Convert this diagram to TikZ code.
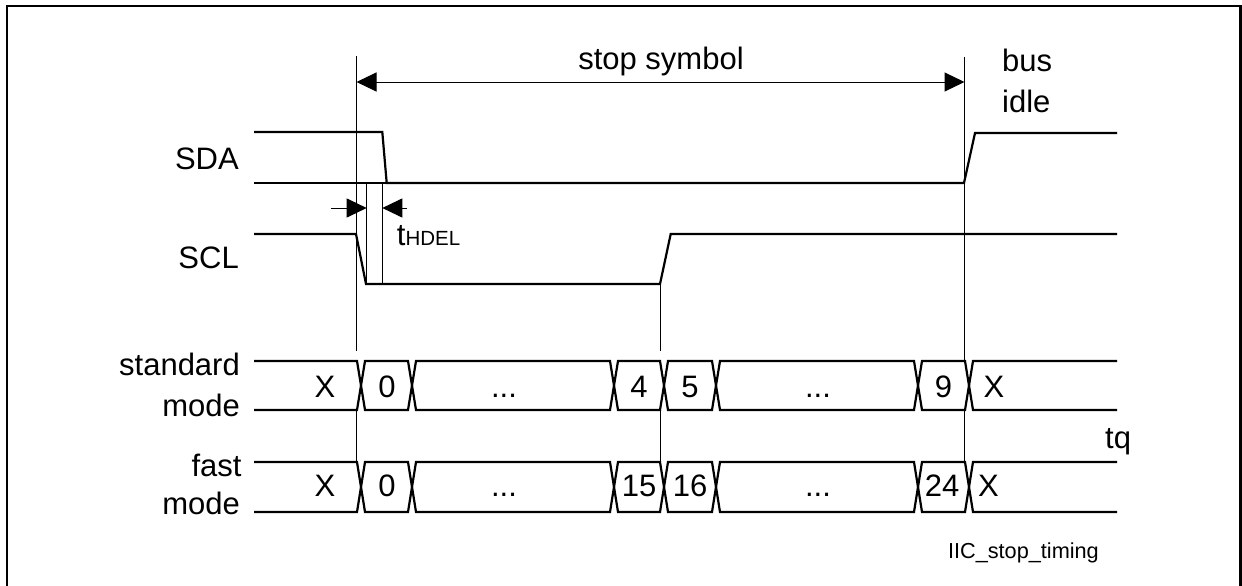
\documentclass[tikz,border=0pt]{standalone}
\usepackage{fontspec}
\setmainfont{Liberation Sans}
\usetikzlibrary{arrows.meta}
\begin{document}
\begin{tikzpicture}[x=1pt,y=-1pt,
  sig/.style={line width=2.2pt, line join=miter},
  thinln/.style={line width=1pt},
  lbl/.style={inner sep=0pt, font=\fontsize{31}{36}\selectfont},
  smalllbl/.style={inner sep=0pt, font=\fontsize{21.7}{26}\selectfont},
  tiparrow/.style={-{Triangle[length=20pt,width=19pt]}, line width=1pt}
]
\useasboundingbox (0,0) rectangle (1242,586);
% frame
\draw[line width=2.5pt] (7,586) -- (7,6) -- (1240.5,6) -- (1240.5,586);

% reference verticals
\draw[thinln] (356.5,56) -- (356.5,351) (356.5,410) -- (356.5,462);
\draw[thinln] (964.5,57) -- (964.5,361) (964.5,410) -- (964.5,462);
\draw[thinln] (660.5,284) -- (660.5,351) (660.5,410) -- (660.5,462);
\draw[thinln] (366.7,183) -- (366.7,284);
\draw[thinln] (382.3,183) -- (382.3,284);

% stop symbol arrow
\coordinate (stopL) at (356.5,82);
\coordinate (stopR) at (964.5,82);
\coordinate (stopM) at (660.5,82);
\draw[tiparrow] (stopM) -- (stopL);
\draw[tiparrow] (stopM) -- (stopR);

% tHDEL arrows
\coordinate (hA) at (331,208);
\coordinate (hB) at (366.7,208);
\coordinate (hC) at (407,208);
\coordinate (hD) at (382.3,208);
\draw[tiparrow] (hA) -- (hB);
\draw[tiparrow] (hC) -- (hD);

% signals
\draw[sig] (254,132) -- (382.3,132) -- (386.7,183) -- (964,183) -- (975,133) -- (1117,133);
\draw[sig] (254,183) -- (386.7,183);
\draw[sig] (254,234) -- (356,234) -- (366,284) -- (660,284) -- (670.7,234) -- (1117,234);

% bus rows
\foreach \t/\b in {361/410, 462/512} {
  \pgfmathsetmacro{\m}{(\t+\b)/2}
  \draw[sig] (254,\t) -- (357,\t) -- (361,\m) -- (357,\b) -- (254,\b);
  \draw[sig] (1117,\t) -- (973,\t) -- (969,\m) -- (973,\b) -- (1117,\b);
  \foreach \s/\e in {365/408,416/610,618/660,668/712,720/914,922/965} {
    \draw[sig] (\s,\t) -- (\e,\t) -- ({\e+4},\m) -- (\e,\b) -- (\s,\b) -- ({\s-4},\m) -- cycle;
  }
}

% labels
\node[lbl, anchor=base east] (sda) at (239,169) {SDA};
\node[lbl, anchor=base east] (scl) at (239,268) {SCL};
\node[lbl, anchor=base east] (std1) at (240,375) {standard};
\node[lbl, anchor=base east] (std2) at (240,416) {mode};
\node[lbl, anchor=base east] (fst1) at (241.7,476) {fast};
\node[lbl, anchor=base east] (fst2) at (240,514) {mode};
\node[lbl, anchor=base] (stop) at (661,70) {stop symbol};
\node[lbl, anchor=base west] (bus) at (1002,72) {bus};
\node[lbl, anchor=base west] (idle) at (1002,112) {idle};
\node[lbl, anchor=base west] (tq) at (1105,448) {tq};
\node[lbl, anchor=base west] (thdel) at (396.7,245) {t{\fontsize{20.5}{24}\selectfont HDEL}};
\node[smalllbl, anchor=base east] (fig) at (1099,558) {IIC\_stop\_timing};

% standard mode values
\node[lbl, anchor=base] (s0) at (325,397) {X};
\node[lbl, anchor=base] (s1) at (387,397) {0};
\node[lbl, anchor=base] (s2) at (504,397) {...};
\node[lbl, anchor=base] (s3) at (639,397) {4};
\node[lbl, anchor=base] (s4) at (690,397) {5};
\node[lbl, anchor=base] (s5) at (818,397) {...};
\node[lbl, anchor=base] (s6) at (943.5,397) {9};
\node[lbl, anchor=base] (s7) at (994,397) {X};
% fast mode values
\node[lbl, anchor=base] (f0) at (325,496) {X};
\node[lbl, anchor=base] (f1) at (387,496) {0};
\node[lbl, anchor=base] (f2) at (504,496) {...};
\node[lbl, anchor=base] (f3) at (639,496) {15};
\node[lbl, anchor=base] (f4) at (690,496) {16};
\node[lbl, anchor=base] (f5) at (818,496) {...};
\node[lbl, anchor=base] (f6) at (942,496) {24};
\node[lbl, anchor=base] (f7) at (988.5,496) {X};
\end{tikzpicture}
\end{document}
